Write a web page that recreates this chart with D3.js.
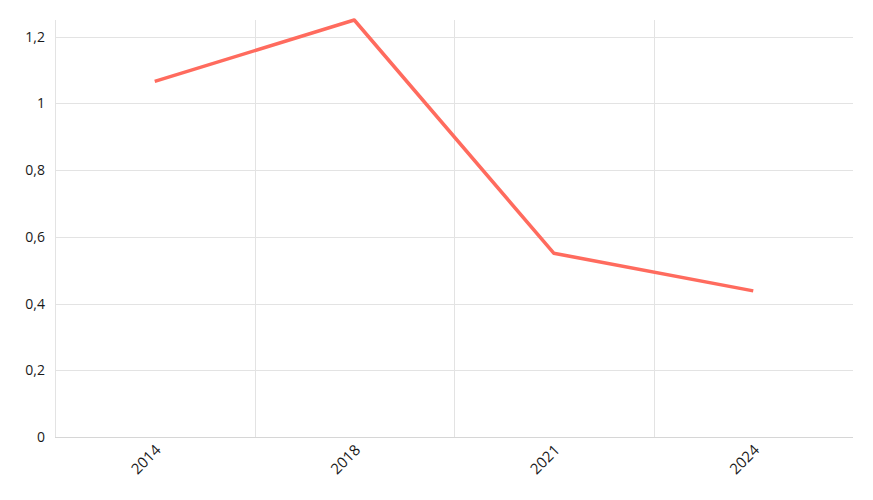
<!DOCTYPE html>
<html>
<head>
<meta charset="utf-8">
<script src="https://cdn.jsdelivr.net/npm/d3@7"></script>
<style>
  body { margin: 0; background: #fff; }
  text { font-family: "Open Sans", "Noto Sans", sans-serif; }
</style>
</head>
<body>
<svg id="chart" width="873" height="500"></svg>
<script>
  var years = ["2014", "2018", "2021", "2024"];
  var values = [1.066, 1.25, 0.551, 0.438];
  var yTicks = [0, 0.2, 0.4, 0.6, 0.8, 1, 1.2];

  var margin = {top: 20, right: 20, bottom: 63, left: 55};
  var width = 873 - margin.left - margin.right;
  var height = 500 - margin.top - margin.bottom;

  var svg = d3.select("#chart");
  var g = svg.append("g").attr("transform", "translate(" + margin.left + "," + margin.top + ")");

  var x = d3.scaleBand().domain(years).range([0, width]);
  var y = d3.scaleLinear().domain([0, 1.25]).range([height, 0]);

  var fmt = function(d) { return d3.format("~g")(d).replace(".", ","); };

  // horizontal grid
  g.append("g")
    .selectAll("line")
    .data(yTicks)
    .join("line")
    .attr("x1", 0)
    .attr("x2", width)
    .attr("y1", d => Math.round(y(d)) + 0.5)
    .attr("y2", d => Math.round(y(d)) + 0.5)
    .attr("stroke", "#e3e3e3")
    .attr("stroke-width", 1);

  // vertical grid at band boundaries (inner ones + left edge)
  g.append("g")
    .selectAll("line")
    .data(years)
    .join("line")
    .attr("x1", d => Math.round(x(d)) + 0.5)
    .attr("x2", d => Math.round(x(d)) + 0.5)
    .attr("y1", 0)
    .attr("y2", height)
    .attr("stroke", "#e3e3e3");

  // x axis baseline
  g.append("line")
    .attr("x1", 0).attr("x2", width)
    .attr("y1", height + 0.5).attr("y2", height + 0.5)
    .attr("stroke", "#d6d6d6");

  // y axis labels
  var yAxis = g.append("g")
    .call(d3.axisLeft(y).tickValues(yTicks).tickFormat(fmt).tickSize(0).tickPadding(10));
  yAxis.select(".domain").remove();
  yAxis.selectAll("text")
    .style("font-size", "14px")
    .attr("fill", "#1a1a1a")
    .style("font-family", "'Open Sans', sans-serif");

  // x axis labels
  var xAxis = g.append("g")
    .attr("transform", "translate(0," + height + ")")
    .call(d3.axisBottom(x).tickSize(0).tickPadding(0));
  xAxis.select(".domain").remove();
  xAxis.selectAll("text")
    .style("font-size", "15px")
    .attr("fill", "#1a1a1a")
    .style("font-family", "'Open Sans', sans-serif")
    .attr("text-anchor", "end")
    .attr("dy", "0")
    .attr("transform", "translate(7,14) rotate(-45)");

  // line
  var line = d3.line()
    .x((d, i) => x(years[i]) + x.bandwidth() / 2)
    .y(d => y(d));

  g.append("path")
    .datum(values)
    .attr("d", line)
    .attr("fill", "none")
    .attr("stroke", "#ff6b5e")
    .attr("stroke-width", 3.5)
    .attr("stroke-linejoin", "round");
</script>
</body>
</html>
